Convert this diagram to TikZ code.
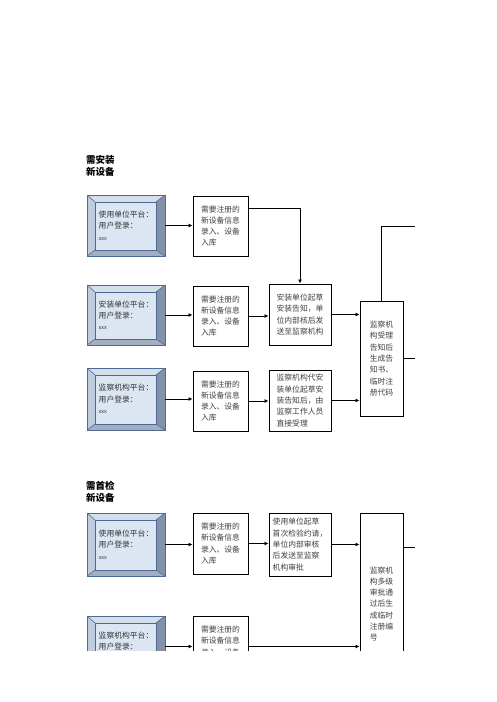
\documentclass[tikz,border=0pt]{standalone}
\usepackage{fontspec}
\setmainfont{Noto Sans CJK SC}
\newfontfamily\latinsf{Liberation Sans}
\usetikzlibrary{arrows.meta}
\definecolor{bevb}{HTML}{4D6A94}
\definecolor{bevtop}{HTML}{D5DFEC}
\definecolor{bevleft}{HTML}{BFCCE0}
\definecolor{bevright}{HTML}{8391A9}
\definecolor{bevbot}{HTML}{A3AEBF}
\definecolor{bevface}{HTML}{DCE6F2}
\newcommand{\boxfont}{\fontsize{7.8}{11.3}\selectfont}
\newcommand{\xxx}{{\latinsf\fontsize{5.5}{11.3}\selectfont xxx}}
\begin{document}
\begin{tikzpicture}[x=1pt,y=-1pt,
  bevel/.style={draw=bevb, line width=0.8pt, minimum width=78pt, minimum height=61pt,
    inner sep=0pt, align=left, font=\boxfont, text=black!80,
    path picture={
      \path (path picture bounding box.north west) coordinate (bNW)
            (path picture bounding box.north east) coordinate (bNE)
            (path picture bounding box.south east) coordinate (bSE)
            (path picture bounding box.south west) coordinate (bSW);
      \path ([shift={(8pt,-7pt)}]bNW) coordinate (iNW)
            ([shift={(-9pt,-7pt)}]bNE) coordinate (iNE)
            ([shift={(-9pt,6pt)}]bSE) coordinate (iSE)
            ([shift={(8pt,6pt)}]bSW) coordinate (iSW);
      \fill[bevtop] (bNW) -- (bNE) -- (iNE) -- (iNW) -- cycle;
      \fill[bevleft] (bNW) -- (iNW) -- (iSW) -- (bSW) -- cycle;
      \fill[bevright] (bNE) -- (bSE) -- (iSE) -- (iNE) -- cycle;
      \fill[bevbot] (bSW) -- (iSW) -- (iSE) -- (bSE) -- cycle;
      \draw[bevb, line width=0.6pt] (bNW) -- (iNW) (bNE) -- (iNE) (bSE) -- (iSE) (bSW) -- (iSW);
      \draw[bevb, line width=0.8pt, fill=bevface] (iNW) rectangle (iSE);
    }},
  tbox/.style={draw=black, line width=0.9pt, fill=white, inner sep=0pt, align=left,
    font=\boxfont, text=black!75},
  abox/.style={tbox, minimum width=55pt, minimum height=60pt},
  bbox/.style={tbox, minimum width=62pt, minimum height=61pt},
  title/.style={inner sep=0pt, align=left, anchor=north west,
    font=\bfseries\fontsize{9.5}{12.5}\selectfont},
  arr/.style={draw=black, line width=0.8pt, -{Latex[length=4pt,width=4pt]}},
  ln/.style={draw=black, line width=0.8pt}]
\useasboundingbox (0,0) rectangle (496,702);
\begin{scope}
\clip (0,0) rectangle (496,650);
% ---- section 1
\node[title] (t1) at (86,155) {需安装\\新设备};
\node[bevel, minimum height=61pt] (p1) at (126,225.5) {使用单位平台：\\用户登录：\\\xxx};
\node[bevel, minimum height=60pt] (p2) at (126,315) {安装单位平台：\\用户登录：\\\xxx};
\node[bevel, minimum height=62pt] (p3) at (126,399) {监察机构平台：\\用户登录：\\\xxx};
\node[abox] (a1) at (220.5,226) {需要注册的\\新设备信息\\录入、设备\\入库};
\node[abox] (a2) at (220.5,316) {需要注册的\\新设备信息\\录入、设备\\入库};
\node[abox] (a3) at (220.5,401) {需要注册的\\新设备信息\\录入、设备\\入库};
\node[bbox] (b2) at (300,314.5) {安装单位起草\\安装告知，单\\位内部核后发\\送至监察机构};
\node[bbox] (b3) at (300,400.5) {监察机构代安\\装单位起草安\\装告知后，由\\监察工作人员\\直接受理};
\node[tbox, minimum width=43pt, minimum height=115pt] (c1) at (381.5,358.5)
  {监察机\\构受理\\告知后\\生成告\\知书、\\临时注\\册代码};
\coordinate (e1) at (415,226);
\coordinate (e2) at (415,358);
\draw[arr] (p1.east) -- (p1.east -| a1.west);
\draw[arr] (p2.east) -- (p2.east -| a2.west);
\draw[arr] (p3.east) -- (p3.east -| a3.west);
\draw[arr] ([yshift=18pt]a1.east) -| (b2.north);
\draw[arr] (a2.east) -- (a2.east -| b2.west);
\draw[arr] (a3.east) -- (a3.east -| b3.west);
\draw[arr] (b2.east) -- (b2.east -| c1.west);
\draw[arr] (b3.east) -- (b3.east -| c1.west);
\draw[ln] (c1.north) |- (e1);
\draw[ln] (c1.east |- e2) -- (e2);
% ---- section 2
\node[title] (t2) at (86,481) {需首检\\新设备};
\node[bevel, minimum height=63pt] (p4) at (126,544.5) {使用单位平台：\\用户登录：\\\xxx};
\node[bevel, minimum height=61pt] (p5) at (126,646.5) {监察机构平台：\\用户登录：\\\xxx};
\node[abox, minimum height=61pt] (a4) at (220.5,543.5) {需要注册的\\新设备信息\\录入、设备\\入库};
\node[abox, minimum height=61pt] (a5) at (220.5,646.5) {需要注册的\\新设备信息\\录入、设备\\入库};
\node[bbox, minimum height=63pt] (b4) at (300,544.5) {使用单位起草\\首次检验约请，\\单位内部审核\\后发送至监察\\机构审批};
\node[tbox, minimum width=43pt, minimum height=182pt] (c4) at (381.5,604)
  {监察机\\构多级\\审批通\\过后生\\成临时\\注册编\\号};
\coordinate (e3) at (415,547);
\draw[arr] (p4.east) -- (p4.east -| a4.west);
\draw[arr] (a4.east) -- (a4.east -| b4.west);
\draw[arr] (b4.east) -- (b4.east -| c4.west);
\draw[ln] (c4.east |- e3) -- (e3);
\draw[arr] (p5.east) -- (p5.east -| a5.west);
\draw[arr] (a5.east) -- (a5.east -| c4.west);
\end{scope}
\end{tikzpicture}
\end{document}
